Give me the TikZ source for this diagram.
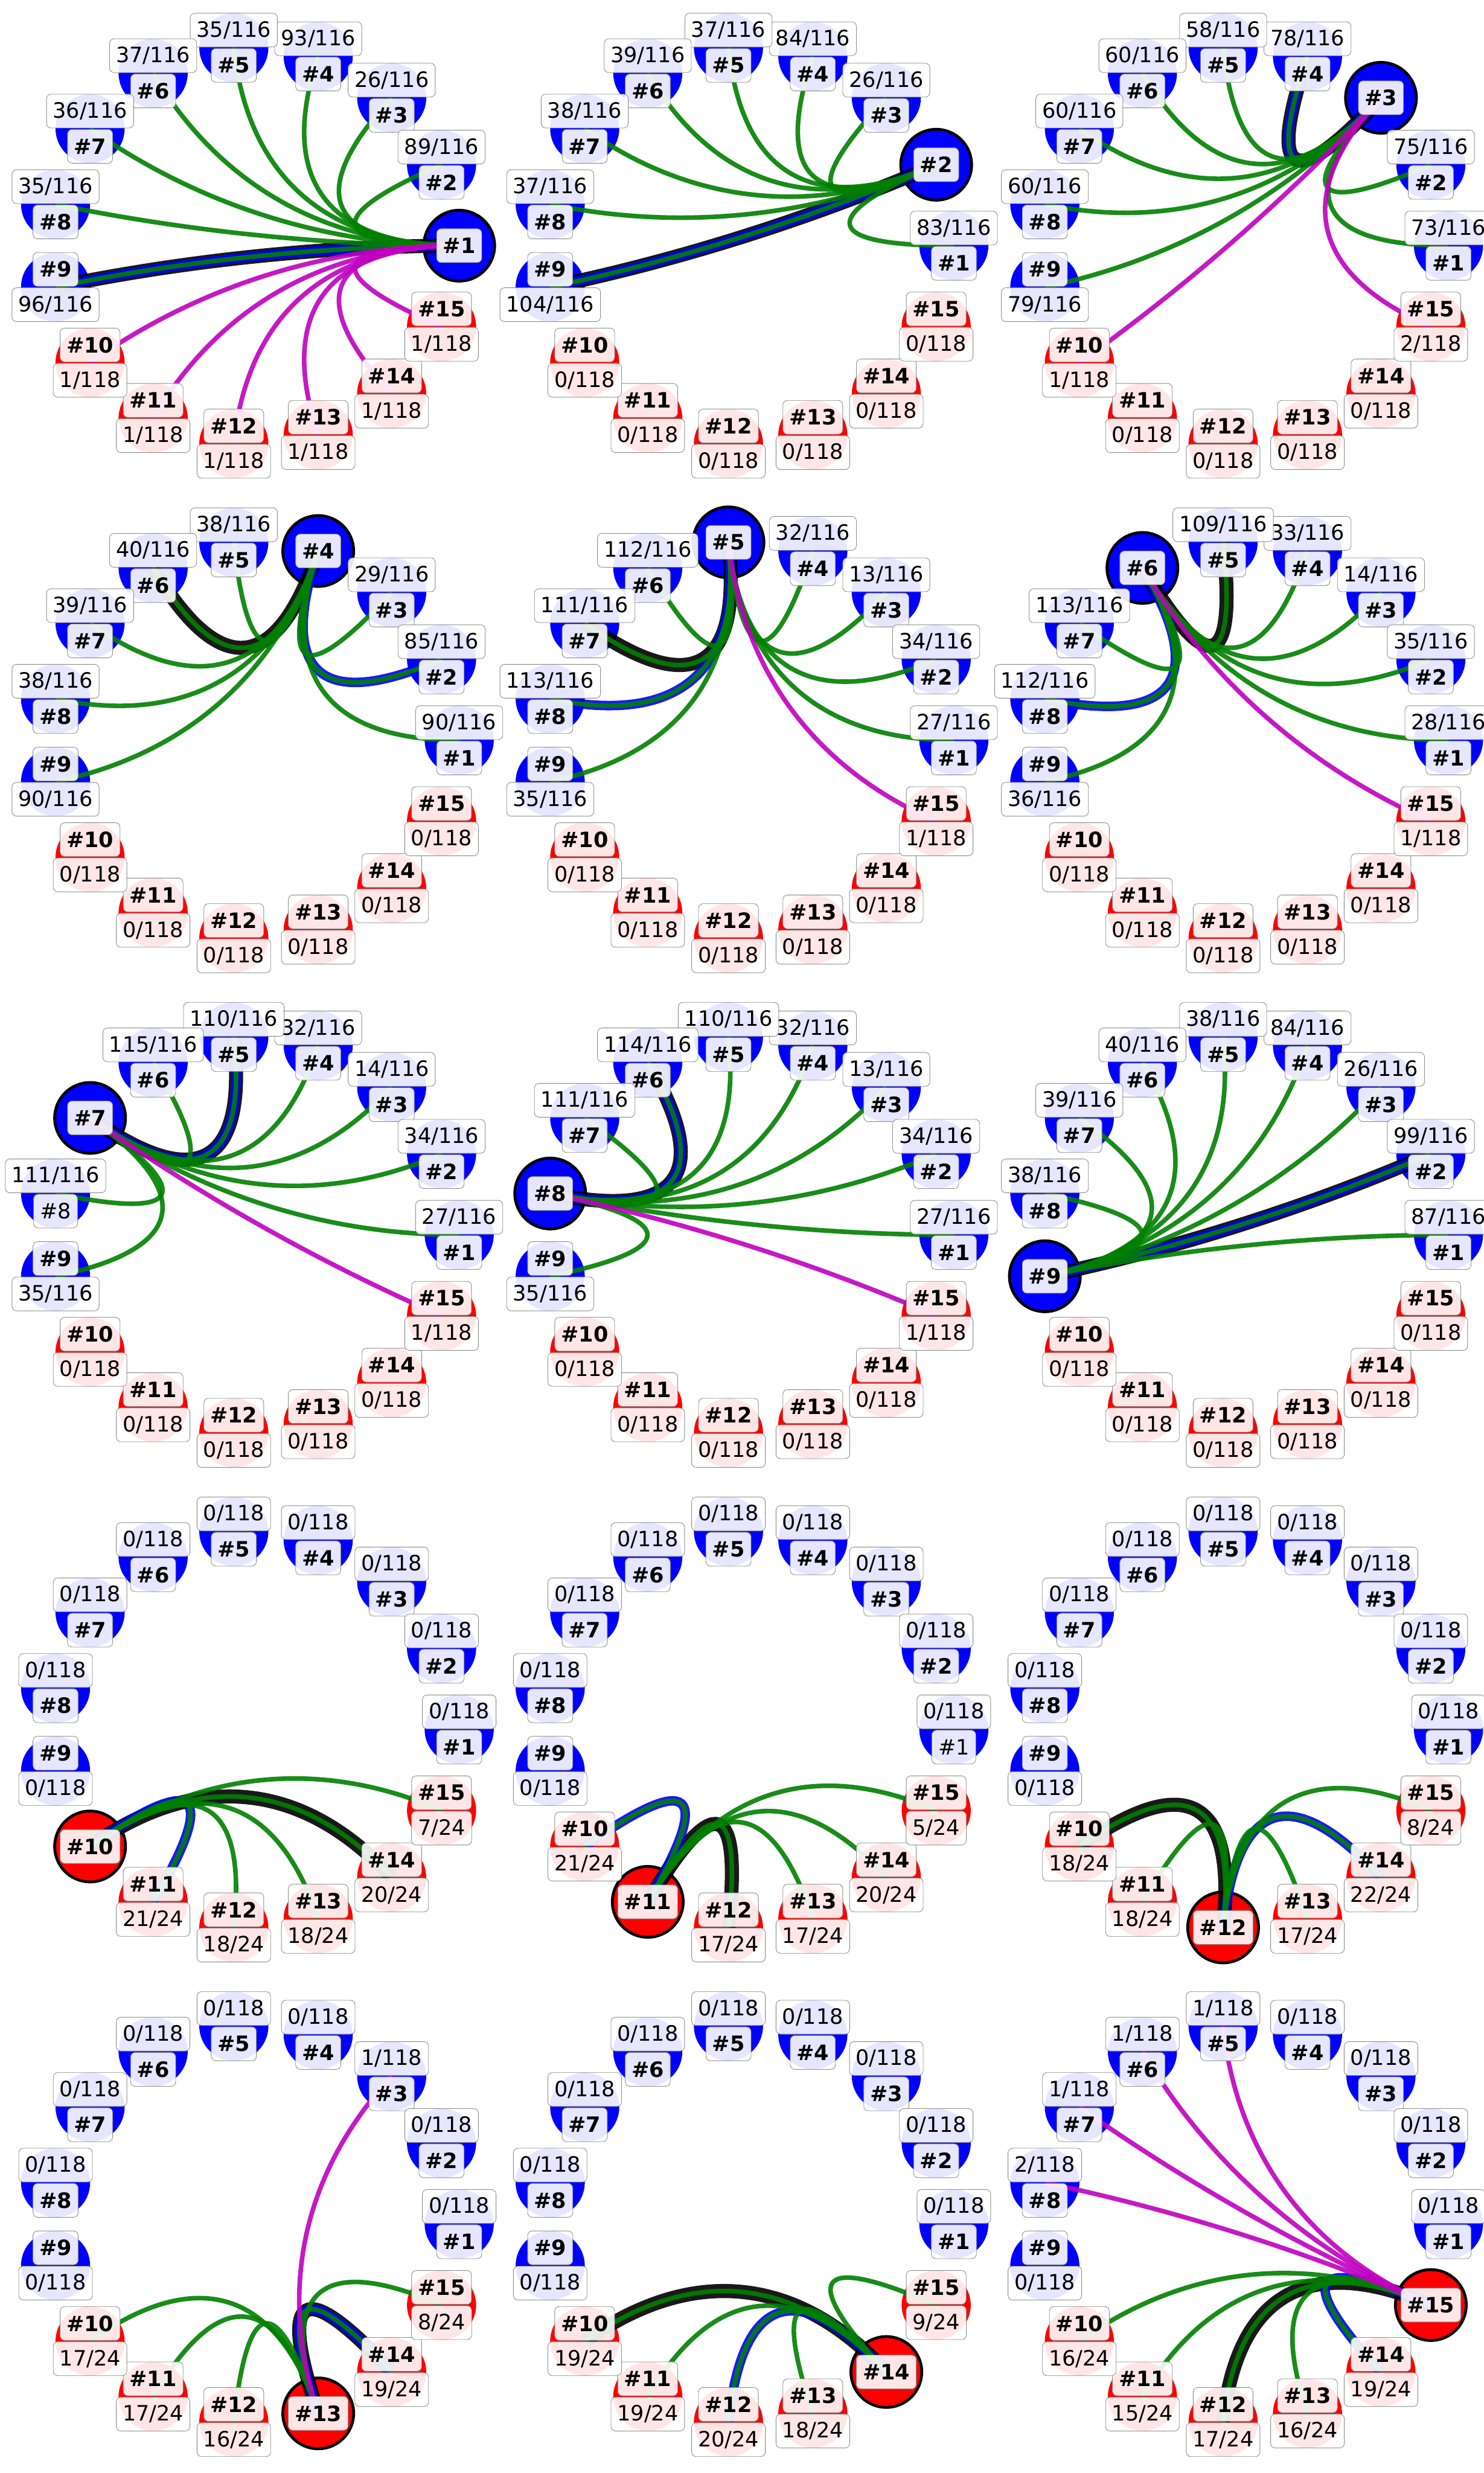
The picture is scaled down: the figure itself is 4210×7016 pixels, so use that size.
\documentclass[tikz,border=0pt]{standalone}
\usepackage{fontspec}
\setmainfont{DejaVu Sans}
\usetikzlibrary{calc}
\definecolor{bnode}{RGB}{0,0,255}
\definecolor{rnode}{RGB}{255,0,0}
\definecolor{edgegreen}{RGB}{0,128,0}
\definecolor{edgemag}{RGB}{191,0,191}
\definecolor{edgeblue}{RGB}{0,0,255}
\definecolor{boxline}{RGB}{140,140,140}
\tikzset{
  smallnode/.style={circle, minimum size=19.6pt, inner sep=0pt, draw=none},
  selnode/.style={circle, minimum size=20.1pt, inner sep=0pt, draw=black, line width=0.8pt},
  lbl/.style={rounded corners=1.3pt, draw=boxline, line width=0.15pt, fill=white,
    fill opacity=0.9, text opacity=1, inner xsep=1.8pt, inner ysep=0pt,
    minimum height=9.6pt, font=\fontsize{6}{7}\selectfont},
  ekline/.style={draw=black, line width=4pt, draw opacity=0.9},
  ebline/.style={draw=edgeblue, line width=2.7pt, draw opacity=0.9},
  ecore/.style={line width=1.3pt, draw opacity=0.9}
}
% #1 id, #2 col, #3 row, #4 selected, #5 counts k/a/b, #6 black-layer targets,
% #7 blue-layer targets, #8 core targets t/colour, #9 index of plain label (0 = none)
\newcommand\Panel[9]{%
\begin{scope}[shift={({#2*1403.333},{#3*1403.2})}]
  \coordinate (p#1-c) at (723.9,697);
  \foreach \k in {1,...,15}{%
    \coordinate (p#1-\k) at ({723.9+578.9*cos((\k-1)*24)},{697-564.6*sin((\k-1)*24)});%
  }
  \foreach \k in {1,...,15}{%
    \ifnum\k<10 \def\nc{bnode}\else\def\nc{rnode}\fi
    \ifnum\k=#4\relax
      \node[selnode, fill=\nc] (p#1-n\k) at (p#1-\k) {};
    \else
      \node[smallnode, fill=\nc] (p#1-n\k) at (p#1-\k) {};
    \fi
  }
  \foreach \t in {#6}{%
    \draw[ekline] (p#1-n#4.center) .. controls ($(p#1-n#4.center)!0.65!(p#1-c)$) and ($(p#1-n\t.center)!0.65!(p#1-c)$) .. (p#1-n\t.center);}
  \foreach \t in {#7}{%
    \draw[ebline] (p#1-n#4.center) .. controls ($(p#1-n#4.center)!0.65!(p#1-c)$) and ($(p#1-n\t.center)!0.65!(p#1-c)$) .. (p#1-n\t.center);}
  \foreach \t/\cc in {#8}{%
    \draw[ecore, draw=\cc] (p#1-n#4.center) .. controls ($(p#1-n#4.center)!0.65!(p#1-c)$) and ($(p#1-n\t.center)!0.65!(p#1-c)$) .. (p#1-n\t.center);}
  \foreach \k in {1,...,15}{%
    \ifnum\k=#9\relax\def\ff{\mdseries}\else\def\ff{\bfseries}\fi
    \ifnum\k=#4\relax
      \node[lbl] (p#1-i\k) at (p#1-\k) {\ff\#\k};
    \else
      \ifnum\k<9
        \node[lbl] (p#1-i\k) at ($(p#1-\k)+(0,50)$) {\ff\#\k};
      \else
        \node[lbl] (p#1-i\k) at ($(p#1-\k)+(0,-50)$) {\ff\#\k};
      \fi
    \fi
  }
  \foreach \k/\a/\b in {#5}{%
    \ifnum\k<9
      \node[lbl] (p#1-q\k) at ($(p#1-\k)+(0,-50)$) {\a/\b};
    \else
      \node[lbl] (p#1-q\k) at ($(p#1-\k)+(0,50)$) {\a/\b};
    \fi
  }
\end{scope}}

\begin{document}
\begin{tikzpicture}[x=0.1pt, y=-0.1pt]
\useasboundingbox (0,0) rectangle (4210,7016);
\fill[white] (0,0) rectangle (4210,7016);

\Panel{1}{0}{0}{1}
 {2/89/116, 3/26/116, 4/93/116, 5/35/116, 6/37/116, 7/36/116, 8/35/116, 9/96/116, 10/1/118, 11/1/118, 12/1/118, 13/1/118, 14/1/118, 15/1/118}
 {9}{9}
 {9/edgegreen, 2/edgegreen, 3/edgegreen, 4/edgegreen, 5/edgegreen, 6/edgegreen, 7/edgegreen, 8/edgegreen, 10/edgemag, 11/edgemag, 12/edgemag, 13/edgemag, 14/edgemag, 15/edgemag}{0}

\Panel{2}{1}{0}{2}
 {1/83/116, 3/26/116, 4/84/116, 5/37/116, 6/39/116, 7/38/116, 8/37/116, 9/104/116, 10/0/118, 11/0/118, 12/0/118, 13/0/118, 14/0/118, 15/0/118}
 {9}{9}
 {9/edgegreen, 1/edgegreen, 3/edgegreen, 4/edgegreen, 5/edgegreen, 6/edgegreen, 7/edgegreen, 8/edgegreen}{0}

\Panel{3}{2}{0}{3}
 {1/73/116, 2/75/116, 4/78/116, 5/58/116, 6/60/116, 7/60/116, 8/60/116, 9/79/116, 10/1/118, 11/0/118, 12/0/118, 13/0/118, 14/0/118, 15/2/118}
 {4}{4}
 {4/edgegreen, 1/edgegreen, 2/edgegreen, 5/edgegreen, 6/edgegreen, 7/edgegreen, 8/edgegreen, 9/edgegreen, 10/edgemag, 15/edgemag}{0}

\Panel{4}{0}{1}{4}
 {1/90/116, 2/85/116, 3/29/116, 5/38/116, 6/40/116, 7/39/116, 8/38/116, 9/90/116, 10/0/118, 11/0/118, 12/0/118, 13/0/118, 14/0/118, 15/0/118}
 {6}{2}
 {6/edgegreen, 2/edgegreen, 1/edgegreen, 3/edgegreen, 5/edgegreen, 7/edgegreen, 8/edgegreen, 9/edgegreen}{0}

\Panel{5}{1}{1}{5}
 {1/27/116, 2/34/116, 3/13/116, 4/32/116, 6/112/116, 7/111/116, 8/113/116, 9/35/116, 10/0/118, 11/0/118, 12/0/118, 13/0/118, 14/0/118, 15/1/118}
 {7}{8}
 {7/edgegreen, 8/edgegreen, 1/edgegreen, 2/edgegreen, 3/edgegreen, 4/edgegreen, 6/edgegreen, 9/edgegreen, 15/edgemag}{0}

\Panel{6}{2}{1}{6}
 {1/28/116, 2/35/116, 3/14/116, 4/33/116, 5/109/116, 7/113/116, 8/112/116, 9/36/116, 10/0/118, 11/0/118, 12/0/118, 13/0/118, 14/0/118, 15/1/118}
 {5}{8}
 {5/edgegreen, 8/edgegreen, 1/edgegreen, 2/edgegreen, 3/edgegreen, 4/edgegreen, 7/edgegreen, 9/edgegreen, 15/edgemag}{0}

\Panel{7}{0}{2}{7}
 {1/27/116, 2/34/116, 3/14/116, 4/32/116, 5/110/116, 6/115/116, 8/111/116, 9/35/116, 10/0/118, 11/0/118, 12/0/118, 13/0/118, 14/0/118, 15/1/118}
 {5}{5}
 {5/edgegreen, 1/edgegreen, 2/edgegreen, 3/edgegreen, 4/edgegreen, 6/edgegreen, 8/edgegreen, 9/edgegreen, 15/edgemag}{8}

\Panel{8}{1}{2}{8}
 {1/27/116, 2/34/116, 3/13/116, 4/32/116, 5/110/116, 6/114/116, 7/111/116, 9/35/116, 10/0/118, 11/0/118, 12/0/118, 13/0/118, 14/0/118, 15/1/118}
 {6}{6}
 {6/edgegreen, 1/edgegreen, 2/edgegreen, 3/edgegreen, 4/edgegreen, 5/edgegreen, 7/edgegreen, 9/edgegreen, 15/edgemag}{0}

\Panel{9}{2}{2}{9}
 {1/87/116, 2/99/116, 3/26/116, 4/84/116, 5/38/116, 6/40/116, 7/39/116, 8/38/116, 10/0/118, 11/0/118, 12/0/118, 13/0/118, 14/0/118, 15/0/118}
 {2}{2}
 {2/edgegreen, 1/edgegreen, 3/edgegreen, 4/edgegreen, 5/edgegreen, 6/edgegreen, 7/edgegreen, 8/edgegreen}{0}

\Panel{10}{0}{3}{10}
 {1/0/118, 2/0/118, 3/0/118, 4/0/118, 5/0/118, 6/0/118, 7/0/118, 8/0/118, 9/0/118, 11/21/24, 12/18/24, 13/18/24, 14/20/24, 15/7/24}
 {14}{11}
 {14/edgegreen, 11/edgegreen, 12/edgegreen, 13/edgegreen, 15/edgegreen}{0}

\Panel{11}{1}{3}{11}
 {1/0/118, 2/0/118, 3/0/118, 4/0/118, 5/0/118, 6/0/118, 7/0/118, 8/0/118, 9/0/118, 10/21/24, 12/17/24, 13/17/24, 14/20/24, 15/5/24}
 {12}{10}
 {12/edgegreen, 10/edgegreen, 13/edgegreen, 14/edgegreen, 15/edgegreen}{1}

\Panel{12}{2}{3}{12}
 {1/0/118, 2/0/118, 3/0/118, 4/0/118, 5/0/118, 6/0/118, 7/0/118, 8/0/118, 9/0/118, 10/18/24, 11/18/24, 13/17/24, 14/22/24, 15/8/24}
 {10}{14}
 {10/edgegreen, 14/edgegreen, 11/edgegreen, 13/edgegreen, 15/edgegreen}{0}

\Panel{13}{0}{4}{13}
 {1/0/118, 2/0/118, 3/1/118, 4/0/118, 5/0/118, 6/0/118, 7/0/118, 8/0/118, 9/0/118, 10/17/24, 11/17/24, 12/16/24, 14/19/24, 15/8/24}
 {14}{14}
 {14/edgegreen, 10/edgegreen, 11/edgegreen, 12/edgegreen, 15/edgegreen, 3/edgemag}{0}

\Panel{14}{1}{4}{14}
 {1/0/118, 2/0/118, 3/0/118, 4/0/118, 5/0/118, 6/0/118, 7/0/118, 8/0/118, 9/0/118, 10/19/24, 11/19/24, 12/20/24, 13/18/24, 15/9/24}
 {10}{12}
 {10/edgegreen, 12/edgegreen, 11/edgegreen, 13/edgegreen, 15/edgegreen}{0}

\Panel{15}{2}{4}{15}
 {1/0/118, 2/0/118, 3/0/118, 4/0/118, 5/1/118, 6/1/118, 7/1/118, 8/2/118, 9/0/118, 10/16/24, 11/15/24, 12/17/24, 13/16/24, 14/19/24}
 {12}{14}
 {12/edgegreen, 14/edgegreen, 10/edgegreen, 11/edgegreen, 13/edgegreen, 5/edgemag, 6/edgemag, 7/edgemag, 8/edgemag}{0}

\end{tikzpicture}
\end{document}
